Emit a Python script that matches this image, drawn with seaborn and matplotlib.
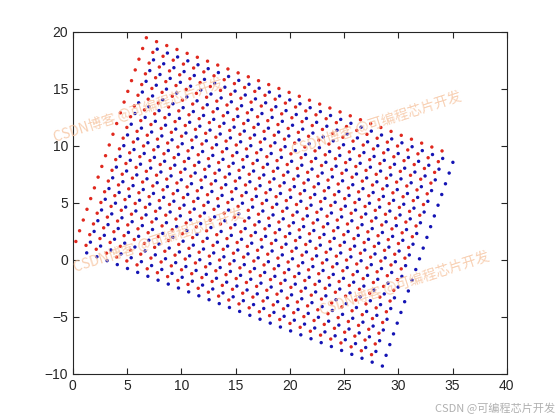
import numpy as np
import pandas as pd
import matplotlib
matplotlib.use('Agg')
import matplotlib.pyplot as plt
import seaborn as sns

# Lattice: a 30 x 20 grid of integer points,
# turned 20 degrees clockwise about the origin (blue), and the same
# grid shifted by (-1, +1) (red)
grid_cols = [1, 2, 3, 4, 5, 6, 7, 8, 9, 10, 11, 12, 13, 14, 15,
             16, 17, 18, 19, 20, 21, 22, 23, 24, 25, 26, 27, 28, 29, 30]
grid_rows = [1, 2, 3, 4, 5, 6, 7, 8, 9, 10,
             11, 12, 13, 14, 15, 16, 17, 18, 19, 20]
rotation_deg = 20
red_shift = [-1, 1]

x_ticks = [0, 5, 10, 15, 20, 25, 30, 35, 40]
y_ticks = [-10, -5, 0, 5, 10, 15, 20]

watermark = 'CSDN博客 @可编程芯片开发'
footer = 'CSDN @可编程芯片开发'

# --- Build the point table ---
gx, gy = np.meshgrid(grid_cols, grid_rows)
gx = gx.ravel()
gy = gy.ravel()
t = np.deg2rad(rotation_deg)
bx = gx * np.cos(t) + gy * np.sin(t)
by = -gx * np.sin(t) + gy * np.cos(t)

df = pd.concat([
    pd.DataFrame({'x': bx + red_shift[0], 'y': by + red_shift[1], 'set': 'red'}),
    pd.DataFrame({'x': bx, 'y': by, 'set': 'blue'}),
], ignore_index=True)

sns.set_theme(style='white')
plt.rcParams['font.family'] = ['Liberation Sans', 'Noto Sans CJK SC', 'DejaVu Sans']

fig = plt.figure(figsize=(5.6, 4.2), dpi=100)
ax = fig.add_axes([0.13, 0.11, 0.775, 0.815])

sns.scatterplot(data=df, x='x', y='y', hue='set',
                palette={'red': '#e0281e', 'blue': '#1414b4'},
                s=6, linewidth=0, legend=False, ax=ax, zorder=3)

ax.set_xlim(0, 40)
ax.set_ylim(-10, 20)
ax.set_xticks(x_ticks)
ax.set_yticks(y_ticks)
ax.set_xlabel('')
ax.set_ylabel('')
for sp in ax.spines.values():
    sp.set_visible(True)
    sp.set_color('#262626')
    sp.set_linewidth(0.8)
ax.tick_params(direction='in', length=4, width=0.8, color='#262626',
               labelsize=10, labelcolor='#262626',
               top=True, right=True, bottom=True, left=True)

# faint watermarks
for px, py in [(52, 275), (290, 262), (72, 145), (318, 102)]:
    fig.text(px / 560, py / 420, watermark, color='#f6c4a0', alpha=0.8,
             fontsize=10, rotation=18, ha='left', va='bottom', zorder=4,
             family=['Noto Sans CJK SC', 'DejaVu Sans'])

fig.text(0.992, 0.015, footer, ha='right', va='bottom', fontsize=8,
         color='#b0b0b0', family=['Noto Sans CJK SC', 'DejaVu Sans'])

fig.savefig('out.png', dpi=100)
